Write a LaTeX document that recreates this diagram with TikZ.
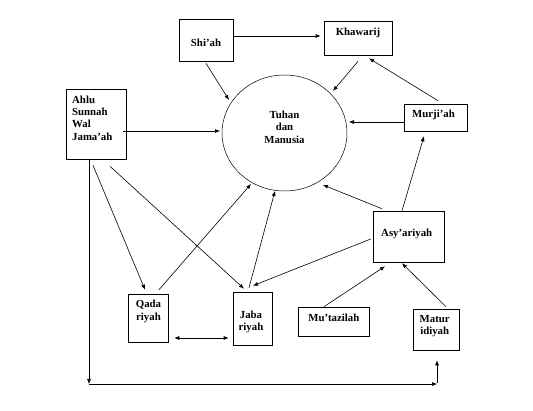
\documentclass[tikz,border=0pt]{standalone}
\usepackage{fontspec}
\setmainfont{Liberation Serif}
\usetikzlibrary{arrows.meta,shapes.geometric}
\begin{document}
\begin{tikzpicture}[x=1pt,y=-1pt,
  box/.style={draw, line width=0.6pt, inner sep=0pt, rectangle},
  lbl/.style={inner sep=0pt, align=center, font=\fontsize{10.8}{12.4}\bfseries\selectfont},
  arr/.style={line width=0.6pt, -{Latex[length=5pt,width=4pt]}},
  darr/.style={line width=0.6pt, {Latex[length=5pt,width=4pt]}-{Latex[length=5pt,width=4pt]}}]
\useasboundingbox (0,0) rectangle (533,411);
% boxes
\node[box, minimum width=54pt, minimum height=42pt] (shiah) at (206,40) {};
\node[box, minimum width=68pt, minimum height=34pt] (khawarij) at (358,38) {};
\node[box, minimum width=60pt, minimum height=70pt] (ahlu) at (96,124) {};
\node[box, minimum width=63pt, minimum height=27pt] (murjiah) at (435.5,117.5) {};
\node[box, minimum width=71pt, minimum height=51pt] (asy) at (408.5,236.5) {};
\node[box, minimum width=71pt, minimum height=29pt] (mut) at (333.5,321.5) {};
\node[box, minimum width=46pt, minimum height=41pt] (mat) at (436,329.5) {};
\node[box, minimum width=40pt, minimum height=48pt] (qad) at (148,318) {};
\node[box, minimum width=39pt, minimum height=53pt] (jab) at (252.5,318.5) {};
\node[draw, ellipse, line width=0.5pt, inner sep=0pt, minimum width=125pt, minimum height=116pt] (tuhan) at (284.5,133) {};
% texts
\node[lbl] (shiaht) at (206,43) {Shi’ah};
\node[lbl] (khawarijt) at (358,33) {Khawarij};
\node[lbl, anchor=west, align=left] (ahlut) at (72,118) {Ahlu\\Sunnah\\Wal\\Jama’ah};
\node[lbl] (murjiaht) at (433.5,115) {Murji’ah};
\node[lbl] (asyt) at (406.7,234) {Asy’ariyah};
\node[lbl] (mutt) at (333.8,318) {Mu’tazilah};
\node[lbl] (matt) at (434.7,326) {Matur\\idiyah};
\node[lbl] (qadt) at (148.5,311.6) {Qada\\riyah};
\node[lbl] (jabt) at (251,322) {Jaba\\riyah};
\node[lbl] (tuhant) at (284.5,127) {Tuhan\\dan\\Manusia};
% corners of the bottom path
\coordinate (c1) at (89,384);
\coordinate (c2) at (437,384);
% connectors
\draw[arr] ([shift={(0,-4)}]shiah.east) -- ([shift={(-3,-2)}]khawarij.west);
\draw[arr] ([shift={(0,2)}]shiah.south) -- ([shift={(-55.5,-33)}]tuhan.center);
\draw[arr] ([shift={(0,6)}]khawarij.south) -- ([shift={(48.5,-42)}]tuhan.center);
\draw[arr] ([shift={(2.5,-3)}]murjiah.north) -- ([shift={(11,3)}]khawarij.south);
\draw[arr] ([shift={(0,4.5)}]murjiah.west) -- ([shift={(64.5,-11)}]tuhan.center);
\draw[arr] ([shift={(-3,7)}]ahlu.east) -- ([shift={(-64.5,-2)}]tuhan.center);
\draw[arr] ([shift={(-6.5,0)}]asy.north) -- ([shift={(-11.5,5)}]murjiah.south);
\draw[arr] ([shift={(-26.5,-2)}]asy.north) -- ([shift={(38.5,52)}]tuhan.center);
\draw[arr] ([shift={(-2,2.5)}]asy.west) -- ([shift={(0.5,-6)}]jab.north);
\draw[arr] ([shift={(-9.5,0)}]mut.north) -- ([shift={(-23.5,4)}]asy.south);
\draw[arr] ([shift={(10,-2)}]mat.north) -- ([shift={(-6.5,1)}]asy.south);
\draw[arr] ([shift={(-3,6)}]ahlu.south) -- ([shift={(-3,-4)}]qad.north);
\draw[arr] ([shift={(14,7)}]ahlu.south) -- ([shift={(-8.5,-3)}]jab.north);
\draw[arr] ([shift={(11,-4)}]qad.north) -- ([shift={(-33.5,51)}]tuhan.center);
\draw[arr] ([shift={(-3.5,-4)}]jab.north) -- ([shift={(-9.5,58)}]tuhan.center);
\draw[darr] ([shift={(6,20)}]qad.east) -- ([shift={(-4,19.5)}]jab.west);
\draw[arr] ([shift={(-7,0)}]ahlu.south) -- (c1);
\draw[arr] (c1) -- (c2);
\draw[arr] ([shift={(0,-1)}]c2) -- ([shift={(1,10)}]mat.south);
\end{tikzpicture}
\end{document}
